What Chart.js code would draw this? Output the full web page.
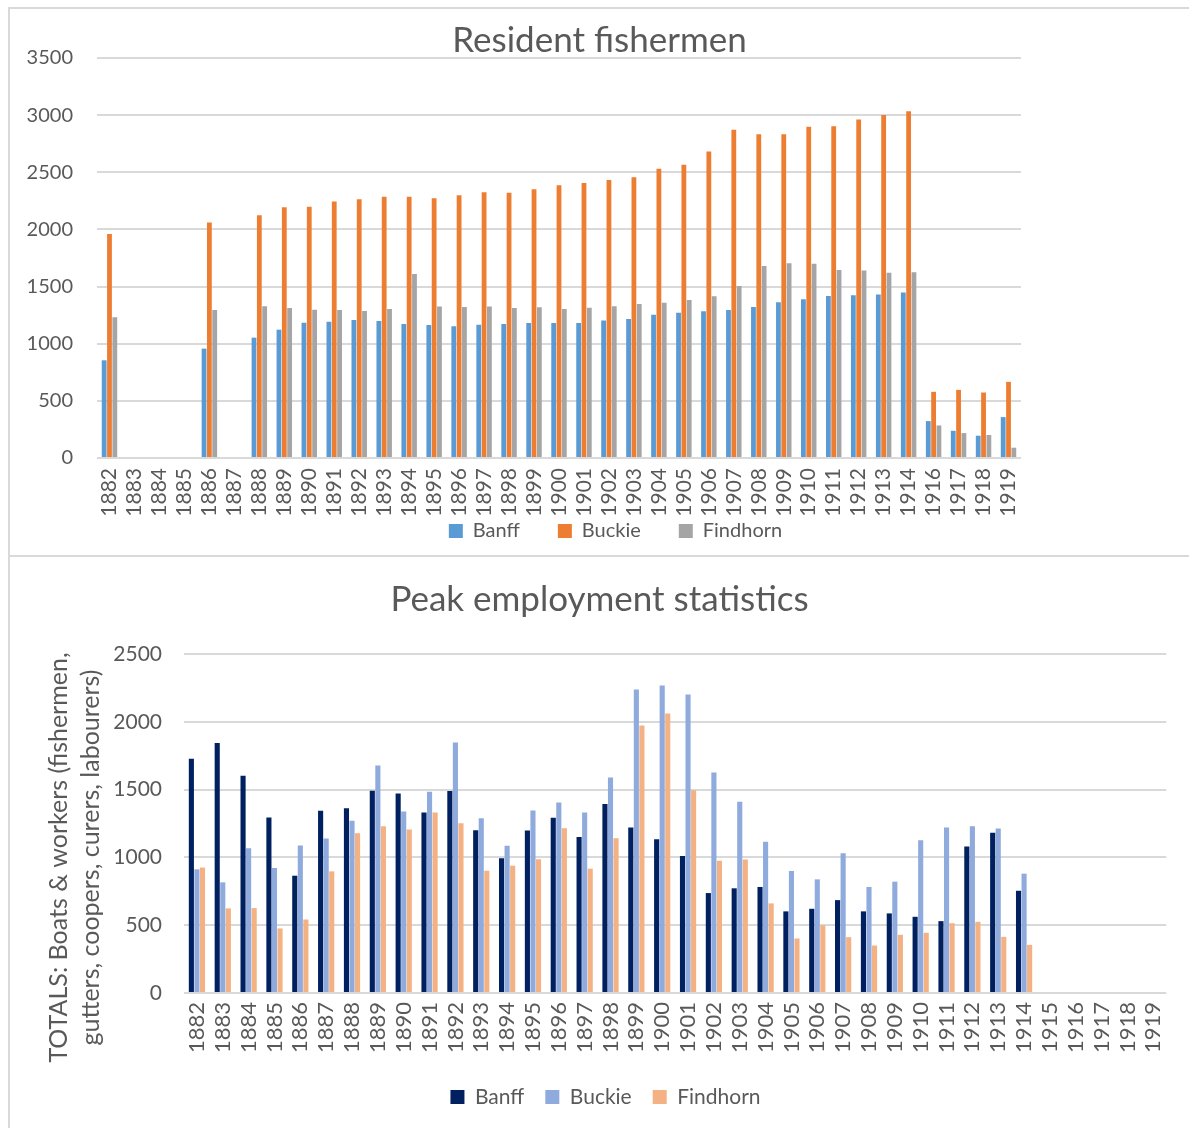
<!DOCTYPE html>
<html>
<head>
<meta charset="utf-8">
<script src="https://cdn.jsdelivr.net/npm/chart.js@4.4.0/dist/chart.umd.min.js"></script>
<style>
  html, body { margin: 0; padding: 0; background: #ffffff; }
  body { width: 1189px; height: 1128px; position: relative; overflow: hidden; }
  .panel { position: absolute; left: 8px; border-left: 2px solid #d9d9d9; border-top: 2px solid #d9d9d9; }
  #p1 { top: 7px; width: 1179px; height: 546px; }
  #p2 { top: 555px; width: 1179px; height: 571px; }
  .panel canvas { display: block; }
</style>
</head>
<body>
<div class="panel" id="p1"><canvas id="residentChart" width="1179" height="546"></canvas></div>
<div class="panel" id="p2"><canvas id="peakChart" width="1179" height="571"></canvas></div>
<script>
// ---- Resident fishermen (1915 not recorded) ----
const residentYears = ['1882','1883','1884','1885','1886','1887','1888','1889','1890','1891','1892','1893','1894','1895','1896','1897','1898','1899','1900','1901','1902','1903','1904','1905','1906','1907','1908','1909','1910','1911','1912','1913','1914','1916','1917','1918','1919'];
const residentBanff = [855,null,null,null,957,null,1053,1123,1184,1192,1207,1198,1172,1163,1152,1166,1172,1181,1181,1181,1204,1216,1254,1271,1283,1294,1321,1362,1390,1417,1425,1431,1449,323,238,195,358];
const residentBuckie = [1960,null,null,null,2060,null,2124,2193,2198,2245,2263,2286,2286,2272,2298,2325,2321,2351,2386,2406,2432,2456,2532,2567,2681,2872,2833,2833,2898,2903,2962,3002,3034,579,596,573,666];
const residentFindhorn = [1231,null,null,null,1294,null,1327,1312,1297,1294,1286,1303,1609,1325,1321,1326,1312,1318,1303,1315,1327,1347,1359,1382,1415,1504,1681,1705,1699,1644,1641,1620,1626,285,218,201,90];

// ---- Peak employment: boats & workers totals ----
const peakYears = ['1882','1883','1884','1885','1886','1887','1888','1889','1890','1891','1892','1893','1894','1895','1896','1897','1898','1899','1900','1901','1902','1903','1904','1905','1906','1907','1908','1909','1910','1911','1912','1913','1914','1915','1916','1917','1918','1919'];
const peakBanff = [1728,1844,1603,1294,865,1344,1363,1492,1472,1331,1489,1200,994,1198,1292,1151,1393,1220,1134,1011,737,772,782,602,621,685,602,587,562,530,1080,1181,754,null,null,null,null,null];
const peakBuckie = [912,816,1067,922,1087,1139,1270,1677,1339,1484,1847,1289,1085,1346,1405,1331,1590,2239,2268,2202,1627,1410,1116,900,838,1031,782,821,1127,1220,1230,1213,880,null,null,null,null,null];
const peakFindhorn = [925,624,626,476,542,897,1178,1230,1206,1331,1252,902,939,986,1215,917,1141,1972,2061,1496,976,984,661,402,500,412,350,429,444,515,525,414,355,null,null,null,null,null];

const peakAxisTitle = ['TOTALS: Boats & workers (fishermen,', 'gutters, coopers, curers, labourers)'];

const FONT = 'Lato, "Open Sans", "DejaVu Sans", sans-serif';
const TEXT = '#595959';
const GRID = '#d9d9d9';

// Places the legend row and (optionally) re-centres the y-axis title after layout.
function layoutTweaks(opts) {
  return {
    id: 'layoutTweaks',
    afterLayout(chart) {
      const lg = chart.legend;
      if (lg) {
        lg.top = opts.legendTop;
        lg.bottom = opts.legendTop + 80;
        lg.height = 80;
        lg.left += opts.legendShift;
        lg.right += opts.legendShift;
      }
      if (opts.yTitleShift) {
        const y = chart.scales.y;
        y.top += opts.yTitleShift;
        y.bottom += opts.yTitleShift;
      }
    }
  };
}

function barSet(label, data, color, barPct, catPct) {
  return { label, data, backgroundColor: color, borderWidth: 0, barPercentage: barPct, categoryPercentage: catPct, clip: false };
}

function legendOpts(size, gap) {
  return {
    position: 'bottom',
    maxHeight: 20,
    labels: { boxWidth: 14, boxHeight: 14, padding: gap, color: TEXT, font: { family: FONT, size } }
  };
}

const plainNumber = (v) => String(v);

Chart.defaults.font.family = FONT;
Chart.defaults.color = TEXT;

new Chart(document.getElementById('residentChart'), {
  type: 'bar',
  data: {
    labels: residentYears,
    datasets: [
      barSet('Banff', residentBanff, '#5b9bd5', 0.9, 0.64),
      barSet('Buckie', residentBuckie, '#ed7d31', 0.9, 0.64),
      barSet('Findhorn', residentFindhorn, '#a5a5a5', 0.9, 0.64)
    ]
  },
  options: {
    responsive: false,
    animation: false,
    layout: { padding: { top: 0, left: 0, right: 0, bottom: 16 } },
    plugins: {
      title: { display: true, text: 'Resident fishermen', color: TEXT, font: { family: FONT, size: 35, weight: 'normal', lineHeight: 1 }, padding: { top: 14, bottom: 0 } },
      legend: legendOpts(20, 38),
      tooltip: { enabled: false }
    },
    scales: {
      x: {
        grid: { display: false, drawTicks: false },
        border: { display: false },
        ticks: { autoSkip: false, minRotation: 90, maxRotation: 90, padding: 10, color: TEXT, font: { family: FONT, size: 21 } },
        afterFit(s) { s.height = 61; }
      },
      y: {
        min: 0, max: 3500,
        grid: { color: GRID, lineWidth: 2, drawTicks: false },
        border: { display: false },
        ticks: { stepSize: 500, padding: 24, color: TEXT, font: { family: FONT, size: 20 }, callback: plainNumber },
        afterFit(s) { s.width = 87; }
      },
      spacer: {
        type: 'linear', position: 'right', display: true,
        grid: { display: false, drawTicks: false },
        border: { display: false },
        ticks: { display: false },
        afterFit(s) { s.width = 168; }
      }
    }
  },
  plugins: [layoutTweaks({ legendTop: 474, legendShift: 16 })]
});

new Chart(document.getElementById('peakChart'), {
  type: 'bar',
  data: {
    labels: peakYears,
    datasets: [
      barSet('Banff', peakBanff, '#002060', 0.92, 0.645),
      barSet('Buckie', peakBuckie, '#8faadc', 0.92, 0.645),
      barSet('Findhorn', peakFindhorn, '#f4b183', 0.92, 0.645)
    ]
  },
  options: {
    responsive: false,
    animation: false,
    layout: { padding: { top: 0, left: 0, right: 0, bottom: 53 } },
    plugins: {
      title: { display: true, text: 'Peak employment statistics', color: TEXT, font: { family: FONT, size: 35, weight: 'normal', lineHeight: 1 }, padding: { top: 25.5, bottom: 36.5 } },
      legend: legendOpts(21, 21),
      tooltip: { enabled: false }
    },
    scales: {
      x: {
        grid: { display: false, drawTicks: false },
        border: { display: false },
        ticks: { autoSkip: false, minRotation: 90, maxRotation: 90, padding: 9, color: TEXT, font: { family: FONT, size: 22 } },
        afterFit(s) { s.height = 62; }
      },
      y: {
        min: 0, max: 2500,
        grid: { color: GRID, lineWidth: 2, drawTicks: false },
        border: { display: false },
        ticks: { stepSize: 500, padding: 22, color: TEXT, font: { family: FONT, size: 21 }, callback: plainNumber },
        title: { display: true, text: peakAxisTitle, color: TEXT, font: { family: FONT, size: 25, lineHeight: 1.28 }, padding: { top: 33, bottom: 0 } },
        afterFit(s) { s.width = 174; }
      },
      spacer: {
        type: 'linear', position: 'right', display: true,
        grid: { display: false, drawTicks: false },
        border: { display: false },
        ticks: { display: false },
        afterFit(s) { s.width = 21; }
      }
    }
  },
  plugins: [layoutTweaks({ legendTop: 508.5, legendShift: 6, yTitleShift: 34 })]
});
</script>
</body>
</html>
